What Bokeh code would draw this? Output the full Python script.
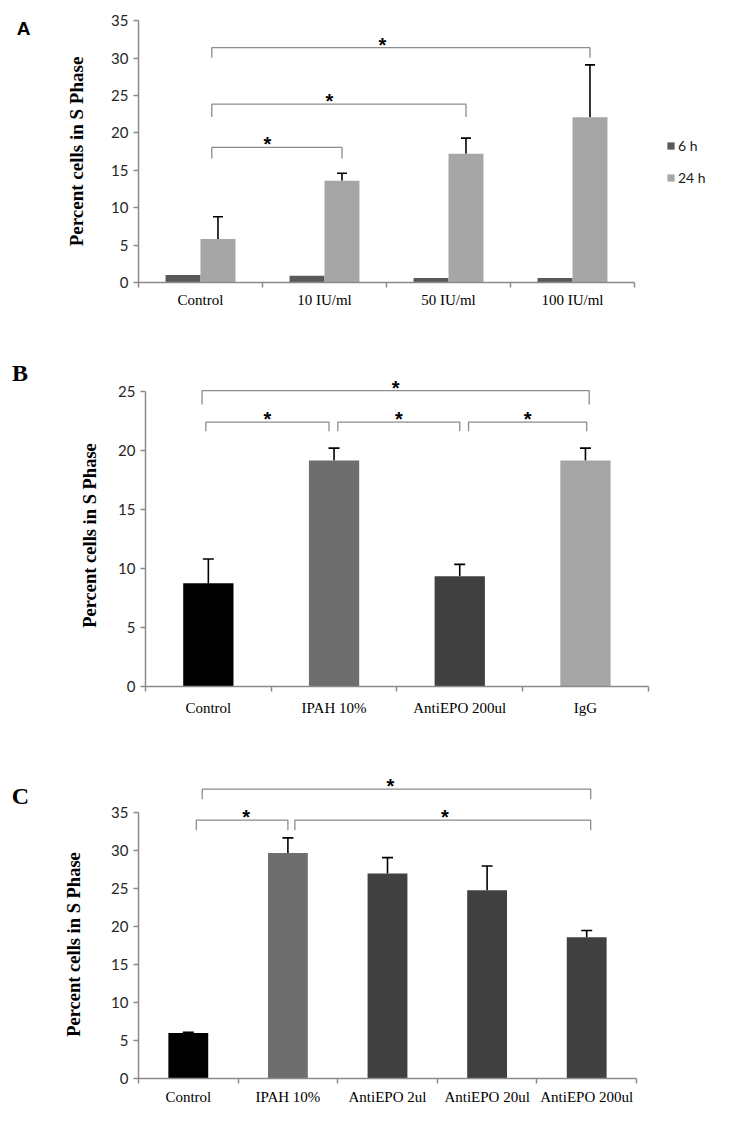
import math
from bokeh.plotting import figure
from bokeh.models import (Range1d, FixedTicker, ColumnDataSource, Whisker, TeeHead,
                          Legend, LegendItem)
from bokeh.layouts import column, row
from bokeh.core.properties import value
from bokeh.embed import file_html
from bokeh.resources import INLINE

# ---------------- data ----------------
a_categories = ["Control", "10 IU/ml", "50 IU/ml", "100 IU/ml"]
a_series = ["6 h", "24 h"]
a_6h = [1.0, 0.9, 0.6, 0.6]
a_24h = [5.8, 13.6, 17.2, 22.1]
a_24h_err = [3.0, 1.0, 2.1, 7.0]
a_ticks = [0, 5, 10, 15, 20, 25, 30, 35]

b_categories = ["Control", "IPAH 10%", "AntiEPO 200ul", "IgG"]
b_values = [8.75, 19.15, 9.35, 19.15]
b_errors = [2.05, 1.05, 1.0, 1.05]
b_ticks = [0, 5, 10, 15, 20, 25]

c_categories = ["Control", "IPAH 10%", "AntiEPO 2ul", "AntiEPO 20ul", "AntiEPO 200ul"]
c_values = [6.0, 29.7, 27.0, 24.8, 18.6]
c_errors = [0.1, 2.0, 2.1, 3.2, 0.9]
c_ticks = [0, 5, 10, 15, 20, 25, 30, 35]

y_label = "Percent cells in S Phase"
panel_letters = ["A", "B", "C"]

# ---------------- styles ----------------
AXIS_COLOR = "#8a8a8a"
BRACKET_COLOR = "#8c8c8c"
SERIF = "Liberation Serif"
SANS = "Lato"
GUTTER_W = 108


def make_gutter(frame_h, top, bottom, letter, letter_xy, letter_font, letter_size,
                label_xy, label_size):
    g = figure(title=None, frame_width=GUTTER_W, frame_height=frame_h,
               x_range=Range1d(0, GUTTER_W), y_range=Range1d(0, frame_h),
               min_border_left=0, min_border_right=0,
               min_border_top=top, min_border_bottom=bottom,
               x_axis_location=None, y_axis_location=None,
               output_backend="svg", toolbar_location=None)
    g.grid.visible = False
    g.outline_line_color = None
    g.text(x=[letter_xy[0]], y=[letter_xy[1]], text=[letter],
           text_align="center", text_baseline="middle",
           text_font=value(letter_font), text_font_style="bold",
           text_font_size=letter_size, text_color="black")
    g.text(x=[label_xy[0]], y=[label_xy[1]], text=[y_label], angle=math.pi / 2,
           text_align="center", text_baseline="middle",
           text_font=value(SERIF), text_font_style="bold",
           text_font_size=label_size, text_color="black")
    return g


def make_panel(cats, ticks, frame_w, frame_h, left, right, top, bottom,
               cat_px, unit_px, xlab_standoff):
    n = len(cats)
    p = figure(title=None, frame_width=frame_w, frame_height=frame_h,
               min_border_left=left, min_border_right=right,
               min_border_top=top, min_border_bottom=bottom,
               x_range=Range1d(-0.5, -0.5 + frame_w / cat_px),
               y_range=Range1d(0, frame_h / unit_px),
               output_backend="svg", toolbar_location=None)
    p.grid.visible = False
    p.outline_line_color = None
    p.background_fill_color = "white"
    p.border_fill_color = "white"

    xa = p.xaxis[0]
    xa.ticker = FixedTicker(ticks=list(range(n)),
                            minor_ticks=[i - 0.5 for i in range(n + 1)])
    xa.major_label_overrides = {i: c for i, c in enumerate(cats)}
    xa.bounds = (-0.5, n - 0.5)
    xa.major_tick_out = 0
    xa.major_tick_in = 0
    xa.minor_tick_out = 5
    xa.minor_tick_in = 0
    xa.minor_tick_line_color = AXIS_COLOR
    xa.minor_tick_line_width = 1.5
    xa.axis_line_color = AXIS_COLOR
    xa.axis_line_width = 1.5
    xa.major_label_text_font = SERIF
    xa.major_label_text_font_size = "15px"
    xa.major_label_text_color = "black"
    xa.major_label_standoff = xlab_standoff

    ya = p.yaxis[0]
    ya.ticker = FixedTicker(ticks=ticks)
    ya.bounds = (0, ticks[-1])
    ya.major_tick_out = 5
    ya.major_tick_in = 0
    ya.minor_tick_out = 0
    ya.minor_tick_in = 0
    ya.major_tick_line_color = AXIS_COLOR
    ya.major_tick_line_width = 1.5
    ya.axis_line_color = AXIS_COLOR
    ya.axis_line_width = 1.5
    ya.major_label_text_font = SANS
    ya.major_label_text_font_size = "15px"
    ya.major_label_text_color = "#262626"
    ya.major_label_standoff = 5
    return p


def add_errors(p, xs, tops, errs, cap):
    src = ColumnDataSource(dict(x=xs, lower=tops,
                                upper=[t + e for t, e in zip(tops, errs)]))
    w = Whisker(base="x", lower="lower", upper="upper", source=src,
                dimension="height", line_color="black", line_width=1.6,
                lower_head=None,
                upper_head=TeeHead(size=cap, line_color="black", line_width=1.6))
    p.add_layout(w)


def add_brackets(p, ends, levels, legs_px, unit_px, star_dx):
    xs, ys, sx, sy = [], [], [], []
    for (xl, xr), lev, leg in zip(ends, levels, legs_px):
        low = lev - leg / unit_px
        xs.append([xl, xl, xr, xr])
        ys.append([low, lev, lev, low])
        sx.append((xl + xr) / 2)
        sy.append(lev)
    p.multi_line(xs=xs, ys=ys, line_color=BRACKET_COLOR, line_width=1.3)
    p.text(x=sx, y=sy, text=["*"] * len(sx), x_offset=star_dx, y_offset=-3,
           text_align="center", text_baseline="alphabetic",
           text_font=value("Liberation Sans"), text_font_style="bold",
           text_font_size="20px", text_color="black")


# ---------------- panel A ----------------
A_CAT, A_UNIT = 124.0, 7.48
gA = make_gutter(262, 20, 32, panel_letters[0], (23, 254), "Liberation Sans", "19px",
                 (76, 131), "19px")
pA = make_panel(a_categories, a_ticks, 580, 262, 30, 7, 20, 32, A_CAT, A_UNIT, 4)
bw = 0.282
ax = list(range(len(a_categories)))
x6 = [i - bw / 2 for i in ax]
x24 = [i + bw / 2 for i in ax]
r6 = pA.vbar(x=x6, top=a_6h, bottom=0, width=bw, fill_color="#595959", line_color=None)
r24 = pA.vbar(x=x24, top=a_24h, bottom=0, width=bw, fill_color="#a6a6a6", line_color=None)
add_errors(pA, x24, a_24h, a_24h_err, 10)
a_pairs = [(0, 1), (0, 2), (0, 3)]
a_ends = [(x24[i] - 0.05, x24[j]) for i, j in a_pairs]
add_brackets(pA, a_ends, [18.06, 23.86, 31.4], [11, 13, 10], A_UNIT, [-9.5, -9.5, -18.5])
legA = Legend(items=[LegendItem(label=a_series[0], renderers=[r6]),
                     LegendItem(label=a_series[1], renderers=[r24])],
              location=(528, 96), padding=0, margin=0, spacing=14,
              glyph_width=9, glyph_height=9, label_height=18, label_standoff=3,
              label_text_font=SANS, label_text_font_size="14px",
              label_text_color="#222222",
              border_line_color=None, background_fill_alpha=0)
pA.add_layout(legA)

# ---------------- panel B ----------------
B_CAT, B_UNIT = 125.7, 11.8
gB = make_gutter(348, 24, 38, panel_letters[1], (19.5, 314), SERIF, "24px",
                 (89, 151), "18.5px")
pB = make_panel(b_categories, b_ticks, 575, 348, 37, 5, 24, 38, B_CAT, B_UNIT, 8)
bx = list(range(len(b_categories)))
pB.vbar(x=bx, top=b_values, bottom=0, width=0.4,
        fill_color=["#000000", "#6e6e6e", "#404040", "#a5a5a5"], line_color=None)
add_errors(pB, bx, b_values, b_errors, 11)
b_pairs = [(0, 3), (0, 1), (1, 2), (2, 3)]
b_nudge = [(-0.05, 0.03), (-0.02, -0.04), (0.03, 0.0), (0.07, 0.01)]
b_ends = [(i + dl, j + dr) for (i, j), (dl, dr) in zip(b_pairs, b_nudge)]
add_brackets(pB, b_ends, [25.08, 22.4, 22.4, 22.4], [14, 9, 9, 9], B_UNIT, [0, 0, 0, 0])

# ---------------- panel C ----------------
C_CAT, C_UNIT = 99.6, 7.59
gC = make_gutter(316, 38, 36, panel_letters[2], (20, 283), SERIF, "24px",
                 (73.5, 134), "18.5px")
pC = make_panel(c_categories, c_ticks, 583, 316, 29, 5, 38, 36, C_CAT, C_UNIT, 5)
cx = list(range(len(c_categories)))
pC.vbar(x=cx, top=c_values, bottom=0, width=0.4,
        fill_color=["#000000", "#6e6e6e", "#404040", "#404040", "#404040"], line_color=None)
add_errors(pC, cx, c_values, c_errors, 11)
c_pairs = [(0, 4), (0, 1), (1, 4)]
c_nudge = [(0.14, 0.04), (0.08, 0.0), (0.07, 0.04)]
c_ends = [(i + dl, j + dr) for (i, j), (dl, dr) in zip(c_pairs, c_nudge)]
add_brackets(pC, c_ends, [38.12, 34.03, 34.03], [10, 10, 10], C_UNIT, [-6, 4, 2])

layout = column(row(gA, pA, spacing=0), row(gB, pB, spacing=0),
                row(gC, pC, spacing=0), spacing=0)
open("out.html", "w").write(file_html(layout, INLINE))
